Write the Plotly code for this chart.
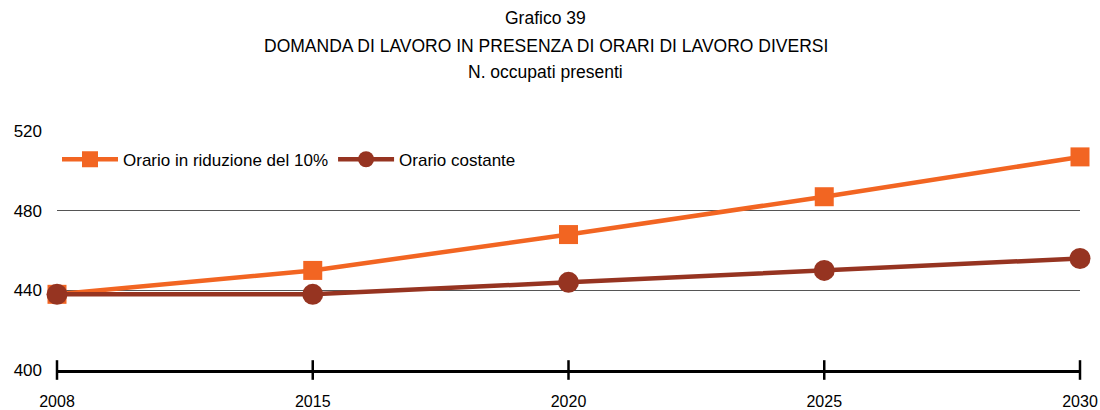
import plotly.graph_objects as go

# data
anni = ["2008", "2015", "2020", "2025", "2030"]
orario_ridotto = [438, 450, 468, 487, 507]
orario_costante = [438, 438, 444, 450, 456]
y_ticks = [400, 440, 480, 520]
titolo = ["Grafico 39",
          "DOMANDA DI LAVORO IN PRESENZA DI ORARI DI LAVORO DIVERSI",
          "N. occupati presenti"]

FONT = "Liberation Sans, Arial"
ARANCIO = "#F26522"
MARRONE = "#963421"

fig = go.Figure()

fig.add_trace(go.Scatter(
    x=anni, y=orario_ridotto, name="Orario in riduzione del 10%",
    mode="lines+markers",
    line=dict(color=ARANCIO, width=4.5),
    marker=dict(symbol="square", size=19, color=ARANCIO),
    cliponaxis=False,
))
fig.add_trace(go.Scatter(
    x=anni, y=orario_costante, name="Orario costante",
    mode="lines+markers",
    line=dict(color=MARRONE, width=4.5),
    marker=dict(symbol="circle", size=21, color=MARRONE),
    cliponaxis=False,
))
# tick marks crossing the x axis line
fig.add_trace(go.Scatter(
    x=anni, y=[y_ticks[0]] * len(anni), mode="markers",
    marker=dict(symbol="line-ns", size=14, line=dict(color="black", width=2.5)),
    showlegend=False, hoverinfo="skip", cliponaxis=False,
))

# title: three centred lines
for riga, ypos in zip(titolo, [1.473, 1.356, 1.247]):
    fig.add_annotation(
        text=riga, xref="paper", yref="paper", x=0.478, y=ypos,
        xanchor="center", yanchor="middle", showarrow=False,
        font=dict(family=FONT, size=17.5),
    )

fig.update_layout(
    width=1100, height=410,
    margin=dict(l=57, r=20, t=131, b=40),
    paper_bgcolor="white", plot_bgcolor="white",
    font=dict(family=FONT, size=17, color="black"),
    legend=dict(
        orientation="h", x=0.0, y=0.88, xanchor="left", yanchor="middle",
        font=dict(size=17), bgcolor="rgba(0,0,0,0)", itemwidth=56,
    ),
    xaxis=dict(
        type="category", range=[0, 4], showgrid=False, zeroline=False,
        showline=True, linecolor="black", linewidth=2.5, automargin=False,
        ticks="", ticklabelstandoff=15, tickfont=dict(size=16),
    ),
    yaxis=dict(
        range=[400, 520], tickvals=y_ticks, showgrid=True,
        gridcolor="#555555", gridwidth=1, zeroline=False, automargin=False,
        showline=False, ticks="", ticklabelstandoff=14,
    ),
)

# drop the browser's default 8px body margin so the figure fills the window
fig.write_html(
    "out.html",
    config={"displayModeBar": False},
    post_script="document.body.style.margin='0';document.body.style.overflow='hidden';",
)
